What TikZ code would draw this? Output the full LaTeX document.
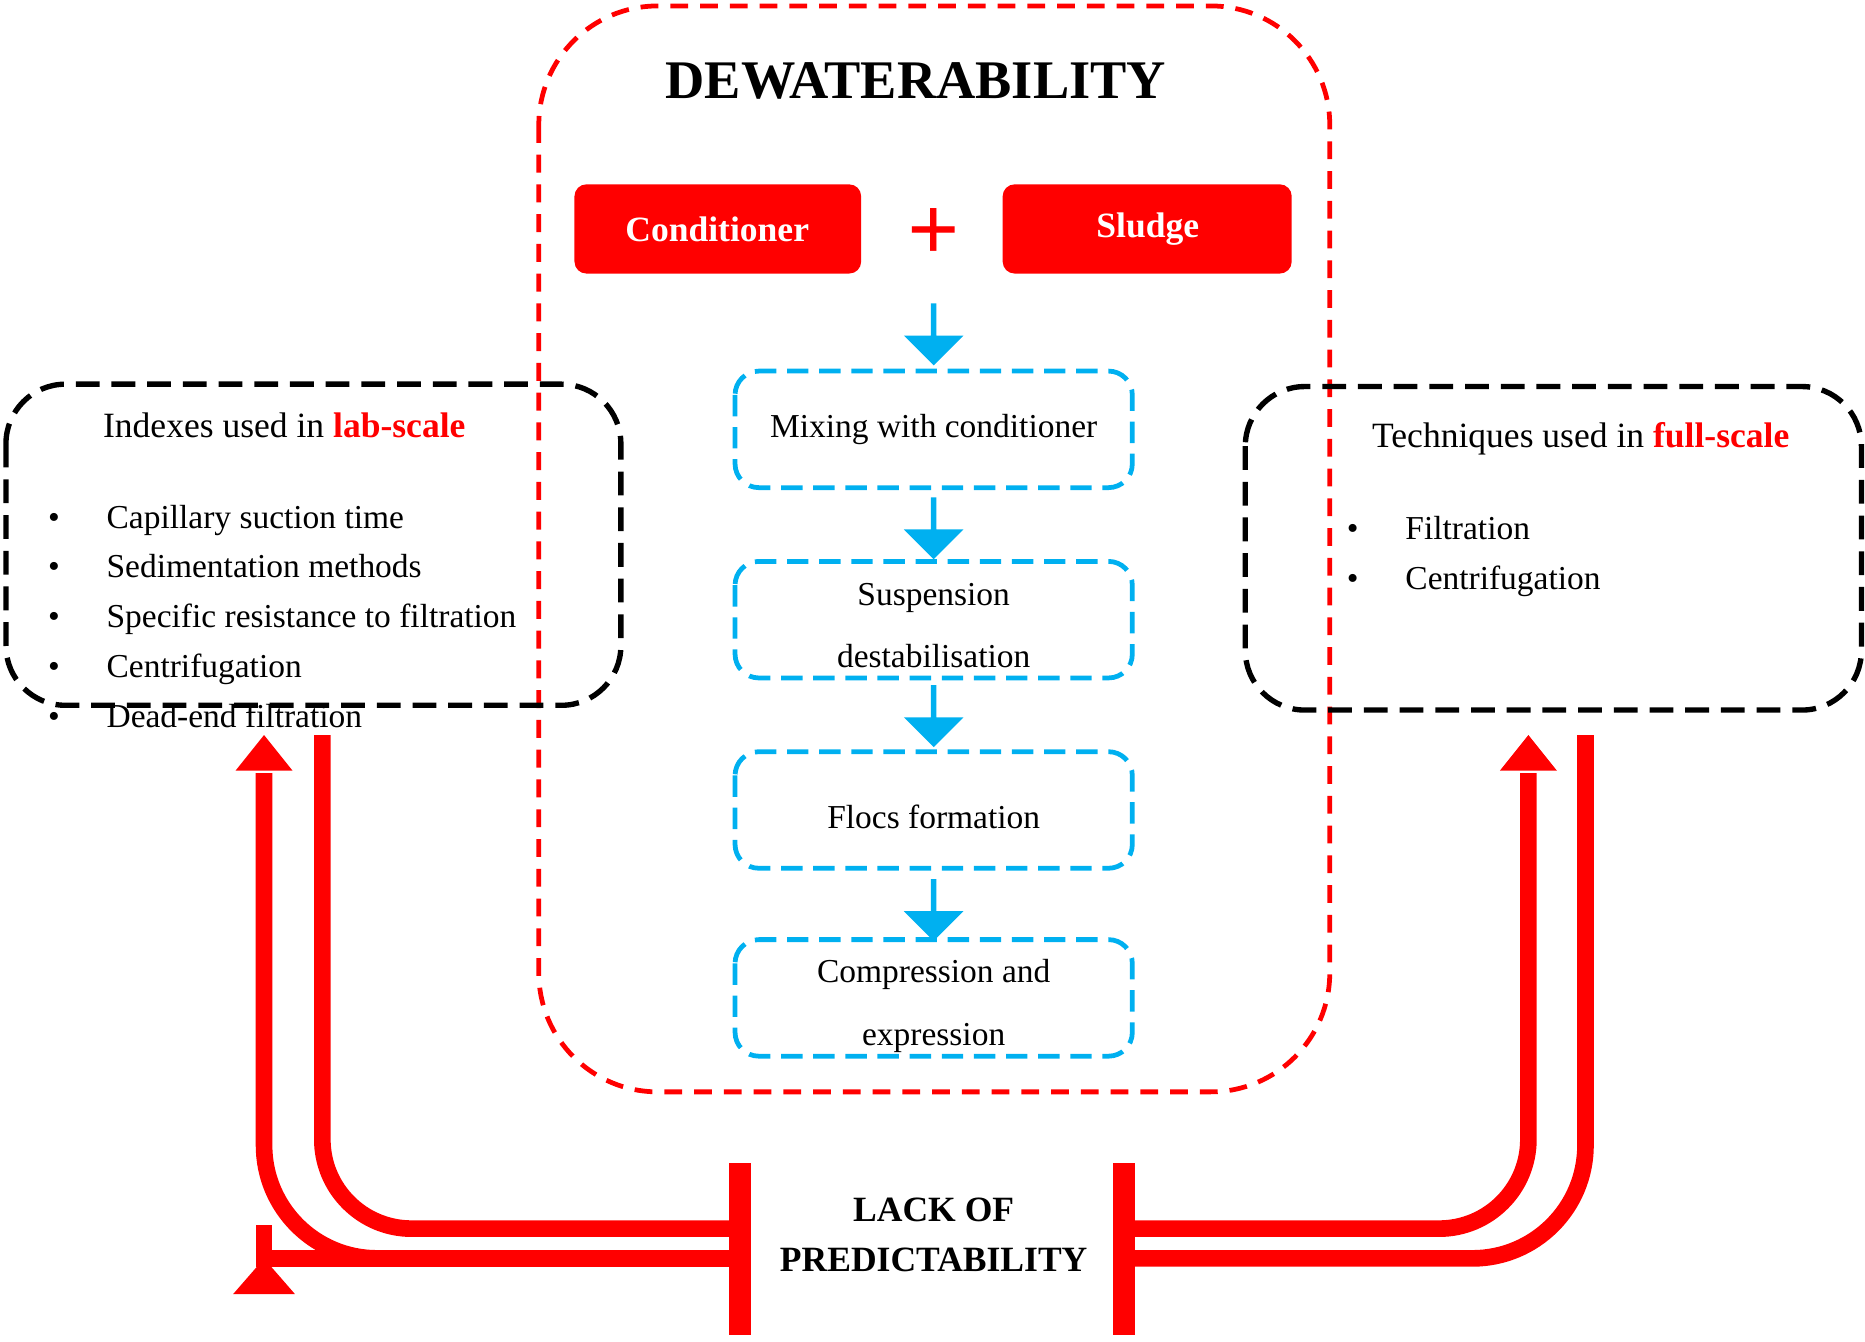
\documentclass[tikz,border=0pt]{standalone}
\usepackage{fontspec}
\setmainfont{Liberation Serif}
\usetikzlibrary{arrows.meta,shapes.arrows}
\definecolor{rd}{RGB}{255,0,0}
\definecolor{bl}{RGB}{0,176,240}
\begin{document}
\begin{tikzpicture}[x=0.01cm,y=-0.01cm,
  redbox/.style={draw=rd,line width=0.04cm,dash pattern=on 0.15cm off 0.1cm,rounded corners=1cm},
  blkbox/.style={draw=black,line width=0.045cm,dash pattern=on 0.2cm off 0.1cm,rounded corners=0.5cm},
  blubox/.style={draw=bl,line width=0.04cm,dash pattern=on 0.18cm off 0.09cm,rounded corners=0.2cm},
  solid/.style={fill=rd,rounded corners=0.1cm,text=white,font=\fontsize{8.5}{10}\selectfont\bfseries},
  barr/.style={single arrow,fill=bl,draw=none,rotate=-90,minimum height=0.52cm,minimum width=0.5cm,single arrow head extend=0.07cm,inner sep=0pt,single arrow tip angle=90},
  txt/.style={font=\fontsize{8}{10}\selectfont},
  rl/.style={draw=rd,line width=0.14cm}]
\useasboundingbox (0,0) rectangle (1568,1128);
\draw[redbox] (453,5) rectangle (1118,918);
\node[font=\fontsize{13}{15}\selectfont\bfseries] (title) at (770,68) {DEWATERABILITY};
\path[solid] (483,155) rectangle (724,230);
\node[txt,text=white,font=\fontsize{8.5}{10}\selectfont\bfseries] (cond) at (603,193) {Conditioner};
\path[solid] (843,155) rectangle (1086,230);
\node[txt,text=white,font=\fontsize{8.5}{10}\selectfont\bfseries] (sl) at (965,193) {Sludge};
\node[text=rd,font=\fontsize{22}{22}\selectfont\bfseries] (plus) at (785,197) {+};
\node[barr] (a1) at (785,280) {};
\node[barr] (a2) at (785,443) {};
\node[barr] (a3) at (785,601) {};
\node[barr] (a4) at (785,764) {};
\draw[blubox] (618,312) rectangle (952,410);
\draw[blubox] (618,472) rectangle (952,570);
\draw[blubox] (618,632) rectangle (952,730);
\draw[blubox] (618,790) rectangle (952,888);
\node[txt] (m) at (785,361) {Mixing with conditioner};
\node[txt,align=center,font=\fontsize{8}{15}\selectfont] (s) at (785,526) {Suspension\\destabilisation};
\node[txt] (f) at (785,687) {Flocs formation};
\node[txt,align=center,font=\fontsize{8}{15}\selectfont] (c) at (785,846) {Compression and\\expression};
\draw[blkbox] (5,323) rectangle (522,593);
\draw[blkbox] (1047,325) rectangle (1565,597);
\node[txt,font=\fontsize{8.5}{10}\selectfont] (lt) at (239,358) {Indexes used in \textcolor{rd}{\bfseries lab-scale}};
\node[txt,align=left,anchor=north west,font=\fontsize{8}{11.9}\selectfont] (ll) at (28,412) {%
\textbullet\hspace{1.4em}Capillary suction time\\
\textbullet\hspace{1.4em}Sedimentation methods\\
\textbullet\hspace{1.4em}Specific resistance to filtration\\
\textbullet\hspace{1.4em}Centrifugation\\
\textbullet\hspace{1.4em}Dead-end filtration};
\node[txt,font=\fontsize{8.5}{10}\selectfont] (rt) at (1329,369) {Techniques used in \textcolor{rd}{\bfseries full-scale}};
\node[txt,align=left,anchor=north west,font=\fontsize{8}{11.9}\selectfont] (rr) at (1120,422) {%
\textbullet\hspace{1.4em}Filtration\\
\textbullet\hspace{1.4em}Centrifugation};
\node[font=\fontsize{8.5}{12}\selectfont\bfseries,align=center] (lp) at (785,1038) {LACK OF\\PREDICTABILITY};
\path[fill=rd] (613,978) rectangle (631,1122);
\path[fill=rd] (936,978) rectangle (954,1122);
\coordinate (lb) at (622,1050);
\coordinate (rb) at (945,1050);
\draw[rl,-{Triangle[length=0.3cm,width=0.5cm]}] (613,1058) -- (222,1058) [rounded corners=1cm] -- ++(0,0) ;
\draw[rl,rounded corners=0.95cm] (620,1058) -- (222,1058) -- (222,650);
\fill[rd] (198,648) -- (222,618) -- (246,648) -- cycle;
\draw[rl,rounded corners=0.75cm] (620,1033) -- (271,1033) -- (271,618);
\draw[rl,rounded corners=0.95cm] (946,1058) -- (1333,1058) -- (1333,618);
\draw[rl,rounded corners=0.75cm] (946,1033) -- (1285,1033) -- (1285,650);
\fill[rd] (1261,648) -- (1285,618) -- (1309,648) -- cycle;
\end{tikzpicture}
\end{document}
